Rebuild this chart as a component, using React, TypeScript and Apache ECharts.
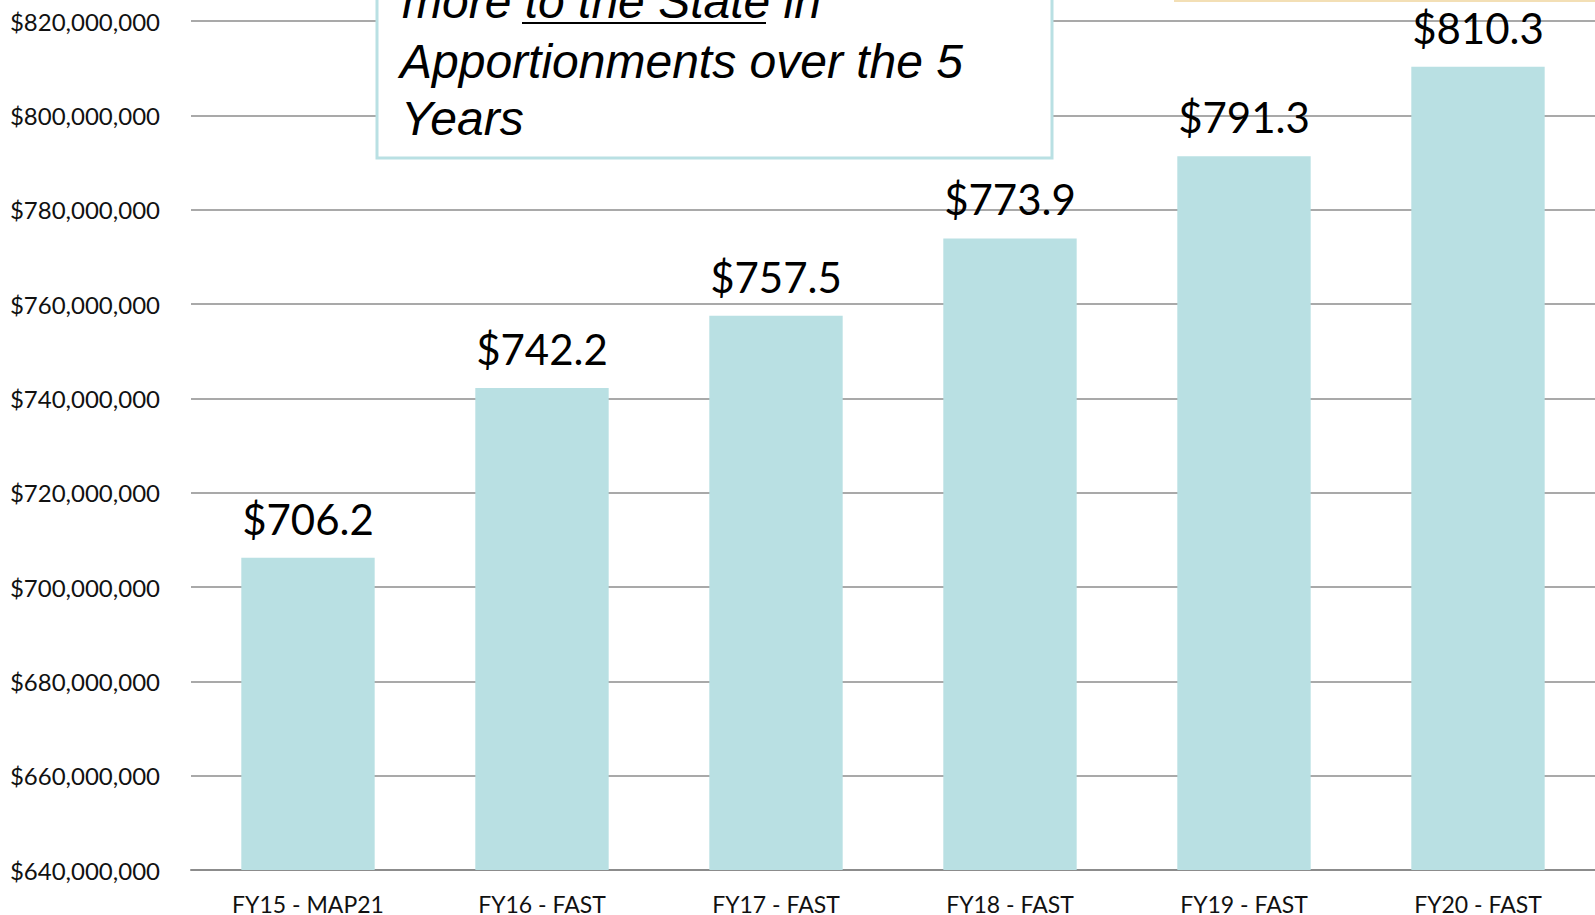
import React, { useEffect, useRef } from "react";
import * as echarts from "echarts";

const categories = ["FY15 - MAP21", "FY16 - FAST", "FY17 - FAST", "FY18 - FAST", "FY19 - FAST", "FY20 - FAST"];
const apportionments = [706200000, 742200000, 757500000, 773900000, 791300000, 810300000];
const yMin = 640000000;
const yMax = 820000000;
const yStep = 20000000;
const calloutLines = ["more to the State in", "Apportionments over the 5", "Years"];

export default function App() {
  const ref = useRef<HTMLDivElement>(null);
  useEffect(() => {
    if (!ref.current) return;
    const chart = echarts.init(ref.current, null, { renderer: "svg" });
    const textFont = "'Liberation Sans', Arial, sans-serif";
    chart.setOption({
      animation: false,
      backgroundColor: "#ffffff",
      grid: { left: 191, right: 0, top: 21, bottom: 45, containLabel: false },
      xAxis: {
        type: "category",
        data: categories,
        axisLine: { lineStyle: { color: "#8c8c8c", width: 2 } },
        axisTick: { show: false },
        axisLabel: { color: "#111", fontFamily: "Lato", fontSize: 23, margin: 22, interval: 0 },
      },
      yAxis: {
        type: "value",
        min: yMin,
        max: yMax,
        interval: yStep,
        axisLine: { show: false },
        axisTick: { show: false },
        splitLine: { lineStyle: { color: "#8c8c8c", width: 1.5 } },
        axisLabel: {
          color: "#111",
          fontFamily: "Lato",
          fontSize: 24,
          margin: 31,
          formatter: (v: number) => "$" + v.toLocaleString("en-US"),
        },
      },
      series: [
        {
          type: "bar",
          data: apportionments,
          barCategoryGap: "43%",
          itemStyle: { color: "#b9e0e3" },
          label: {
            show: true,
            position: "top",
            distance: 18,
            color: "#000",
            fontFamily: "Lato",
            fontSize: 42,
            formatter: (p: any) => "$" + (p.value / 1000000).toFixed(1),
          },
        },
      ],
      graphic: [
        {
          type: "rect",
          z: 100,
          shape: { x: 377, y: -10, width: 675, height: 168 },
          style: { fill: "#ffffff", stroke: "#b9e0e3", lineWidth: 3 },
        },
        {
          type: "text",
          z: 101,
          x: 402,
          y: 1.4,
          style: { text: calloutLines[0], font: "italic 48px " + textFont, fill: "#000", verticalAlign: "middle", align: "left" },
        },
        {
          type: "line",
          z: 101,
          shape: { x1: 522, y1: 23, x2: 766, y2: 23 },
          style: { stroke: "#000", lineWidth: 2 },
        },
        {
          type: "text",
          z: 101,
          x: 400,
          y: 61.4,
          style: { text: calloutLines[1], font: "italic 48px " + textFont, fill: "#000", verticalAlign: "middle", align: "left" },
        },
        {
          type: "text",
          z: 101,
          x: 401,
          y: 118.4,
          style: { text: calloutLines[2], font: "italic 48px " + textFont, fill: "#000", verticalAlign: "middle", align: "left" },
        },
        {
          type: "rect",
          z: 101,
          shape: { x: 1174, y: 0, width: 421, height: 2 },
          style: { fill: "#f3dfb5" },
        },
      ],
    });
    return () => chart.dispose();
  }, []);
  return <div ref={ref} style={{ position: "fixed", left: 0, top: 0, width: 1595, height: 915 }} />;
}
